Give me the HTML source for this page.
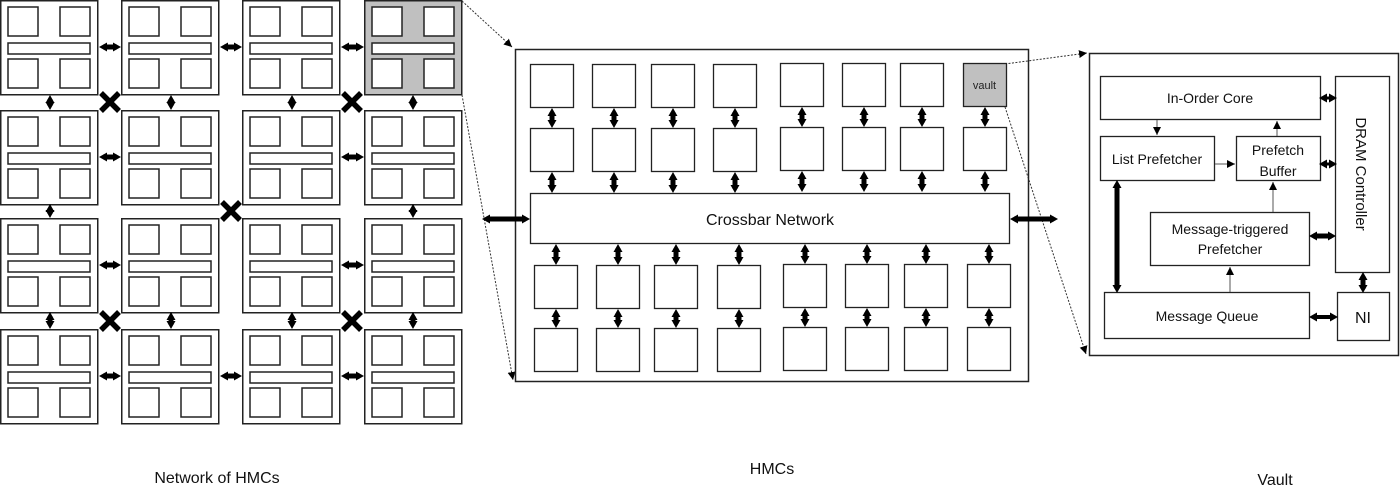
<!DOCTYPE html>
<html><head><meta charset="utf-8"><style>
html,body{margin:0;padding:0;background:#fff;}
svg{display:block;font-family:"Liberation Sans",sans-serif;}
</style></head><body>
<svg width="1400" height="499" viewBox="0 0 1400 499" xmlns="http://www.w3.org/2000/svg">
<defs>
<marker id="ah" markerUnits="userSpaceOnUse" markerWidth="10" markerHeight="10" refX="4" refY="5" orient="auto-start-reverse" viewBox="0 0 10 10"><path d="M0,0.5 L8,5 L0,9.5 Z" fill="#000"/></marker>
<marker id="as" markerUnits="userSpaceOnUse" markerWidth="8" markerHeight="8" refX="8" refY="4" orient="auto" viewBox="0 0 8 8"><path d="M0,0 L8,4 L0,8 Z" fill="#000"/></marker>
<g id="mod" stroke="#222" stroke-width="1.5">
<rect x="0.75" y="0.75" width="97" height="94" fill="#fff"/>
<rect x="8" y="7" width="30" height="29" fill="#fff"/><rect x="60" y="7" width="30" height="29" fill="#fff"/>
<rect x="8" y="43" width="82" height="11" fill="#fff"/>
<rect x="8" y="59" width="30" height="29" fill="#fff"/><rect x="60" y="59" width="30" height="29" fill="#fff"/>
</g>
<g id="modg" stroke="#222" stroke-width="1.5">
<rect x="0.75" y="0.75" width="97" height="94" fill="#c0c0c0"/>
<rect x="8" y="7" width="30" height="29" fill="#fff"/><rect x="60" y="7" width="30" height="29" fill="#fff"/>
<rect x="8" y="43" width="82" height="11" fill="#fff"/>
<rect x="8" y="59" width="30" height="29" fill="#fff"/><rect x="60" y="59" width="30" height="29" fill="#fff"/>
</g>
<g id="xx" stroke="#000" stroke-width="5.5"><line x1="-9" y1="-9" x2="9" y2="9"/><line x1="-9" y1="9" x2="9" y2="-9"/></g>
<g id="sq"><rect x="0.5" y="0.5" width="43" height="43" fill="#fff" stroke="#222" stroke-width="1.3"/></g>
</defs>

<use href="#mod" x="0" y="0"/><use href="#mod" x="121" y="0"/><use href="#mod" x="242" y="0"/><use href="#modg" x="364" y="0"/>
<use href="#mod" x="0" y="110"/><use href="#mod" x="121" y="110"/><use href="#mod" x="242" y="110"/><use href="#mod" x="364" y="110"/>
<use href="#mod" x="0" y="218"/><use href="#mod" x="121" y="218"/><use href="#mod" x="242" y="218"/><use href="#mod" x="364" y="218"/>
<use href="#mod" x="0" y="329"/><use href="#mod" x="121" y="329"/><use href="#mod" x="242" y="329"/><use href="#mod" x="364" y="329"/>

<g stroke="#000" stroke-width="5" marker-start="url(#ah)" marker-end="url(#ah)">
<line x1="103" y1="47" x2="117" y2="47"/><line x1="224" y1="47" x2="238" y2="47"/><line x1="345" y1="47" x2="360" y2="47"/>
<line x1="103" y1="157" x2="117" y2="157"/><line x1="345" y1="157" x2="360" y2="157"/>
<line x1="103" y1="265" x2="117" y2="265"/><line x1="345" y1="265" x2="360" y2="265"/>
<line x1="103" y1="376" x2="117" y2="376"/><line x1="224" y1="376" x2="238" y2="376"/><line x1="345" y1="376" x2="360" y2="376"/>
<line x1="50" y1="99" x2="50" y2="106"/><line x1="171" y1="99" x2="171" y2="106"/><line x1="292" y1="99" x2="292" y2="106"/><line x1="413" y1="99" x2="413" y2="106"/>
<line x1="50" y1="208" x2="50" y2="214"/><line x1="413" y1="208" x2="413" y2="214"/>
<line x1="50" y1="316" x2="50" y2="325"/><line x1="171" y1="316" x2="171" y2="325"/><line x1="292" y1="316" x2="292" y2="325"/><line x1="413" y1="316" x2="413" y2="325"/>
</g>
<use href="#xx" x="110" y="102"/><use href="#xx" x="352" y="102"/><use href="#xx" x="231" y="211"/><use href="#xx" x="110" y="321"/><use href="#xx" x="352" y="321"/>

<g stroke="#333" stroke-width="1" stroke-dasharray="2,1.5" fill="none">
<line x1="462" y1="1" x2="512" y2="47" marker-end="url(#as)"/>
<line x1="462" y1="95" x2="513" y2="380" marker-end="url(#as)"/>
<line x1="1005" y1="64" x2="1087" y2="53" marker-end="url(#as)"/>
<line x1="1005" y1="107" x2="1086" y2="354" marker-end="url(#as)"/>
</g>

<rect x="515.5" y="49.5" width="513" height="332" fill="none" stroke="#222" stroke-width="1.5"/>
<g>
<use href="#sq" x="530" y="64"/><use href="#sq" x="592" y="64"/><use href="#sq" x="651" y="64"/><use href="#sq" x="713" y="64"/><use href="#sq" x="780" y="63"/><use href="#sq" x="842" y="63"/><use href="#sq" x="900" y="63"/>
<rect x="963.5" y="63.5" width="43" height="43" fill="#c0c0c0" stroke="#222" stroke-width="1.3"/>
<use href="#sq" x="530" y="128"/><use href="#sq" x="592" y="128"/><use href="#sq" x="651" y="128"/><use href="#sq" x="713" y="128"/><use href="#sq" x="780" y="127"/><use href="#sq" x="842" y="127"/><use href="#sq" x="900" y="127"/><use href="#sq" x="963" y="127"/>
<use href="#sq" x="534" y="265"/><use href="#sq" x="596" y="265"/><use href="#sq" x="654" y="265"/><use href="#sq" x="717" y="265"/><use href="#sq" x="783" y="264"/><use href="#sq" x="845" y="264"/><use href="#sq" x="904" y="264"/><use href="#sq" x="967" y="264"/>
<use href="#sq" x="534" y="328"/><use href="#sq" x="596" y="328"/><use href="#sq" x="654" y="328"/><use href="#sq" x="717" y="328"/><use href="#sq" x="783" y="327"/><use href="#sq" x="845" y="327"/><use href="#sq" x="904" y="327"/><use href="#sq" x="967" y="327"/>
</g>
<text x="984.5" y="89" font-size="11" text-anchor="middle" fill="#222">vault</text>
<rect x="530.5" y="193.5" width="479" height="50" fill="#fff" stroke="#222" stroke-width="1.3"/>
<text x="770" y="225" font-size="16" text-anchor="middle" fill="#111">Crossbar Network</text>
<g stroke="#000" stroke-width="5" marker-start="url(#ah)" marker-end="url(#ah)">
<line x1="552" y1="112" x2="552" y2="124"/><line x1="614" y1="112" x2="614" y2="124"/><line x1="673" y1="112" x2="673" y2="124"/><line x1="735" y1="112" x2="735" y2="124"/><line x1="802" y1="111" x2="802" y2="123"/><line x1="864" y1="111" x2="864" y2="123"/><line x1="922" y1="111" x2="922" y2="123"/><line x1="985" y1="111" x2="985" y2="123"/>
<line x1="552" y1="176" x2="552" y2="189"/><line x1="614" y1="176" x2="614" y2="189"/><line x1="673" y1="176" x2="673" y2="189"/><line x1="735" y1="176" x2="735" y2="189"/><line x1="802" y1="175" x2="802" y2="188"/><line x1="864" y1="175" x2="864" y2="188"/><line x1="922" y1="175" x2="922" y2="188"/><line x1="985" y1="175" x2="985" y2="188"/>
<line x1="556" y1="248" x2="556" y2="261"/><line x1="618" y1="248" x2="618" y2="261"/><line x1="676" y1="248" x2="676" y2="261"/><line x1="739" y1="248" x2="739" y2="261"/><line x1="805" y1="248" x2="805" y2="260"/><line x1="867" y1="248" x2="867" y2="260"/><line x1="926" y1="248" x2="926" y2="260"/><line x1="989" y1="248" x2="989" y2="260"/>
<line x1="556" y1="313" x2="556" y2="324"/><line x1="618" y1="313" x2="618" y2="324"/><line x1="676" y1="313" x2="676" y2="324"/><line x1="739" y1="313" x2="739" y2="324"/><line x1="805" y1="312" x2="805" y2="323"/><line x1="867" y1="312" x2="867" y2="323"/><line x1="926" y1="312" x2="926" y2="323"/><line x1="989" y1="312" x2="989" y2="323"/>
<line x1="486" y1="219" x2="526" y2="219"/><line x1="1014" y1="219" x2="1054" y2="219"/>
</g>

<rect x="1089.5" y="53.5" width="309" height="302" fill="none" stroke="#222" stroke-width="1.5"/>
<g fill="#fff" stroke="#222" stroke-width="1.3">
<rect x="1100.5" y="76.5" width="220" height="43"/>
<rect x="1100.5" y="136.5" width="114" height="44"/>
<rect x="1236.5" y="136.5" width="84" height="44"/>
<rect x="1150.5" y="212.5" width="159" height="53"/>
<rect x="1104.5" y="292.5" width="205" height="46"/>
<rect x="1337.5" y="292.5" width="52" height="48"/>
<rect x="1335.5" y="76.5" width="54" height="196"/>
</g>
<g font-size="14" fill="#111" text-anchor="middle">
<text x="1210" y="103">In-Order Core</text>
<text x="1157" y="164">List Prefetcher</text>
<text x="1278" y="155">Prefetch</text>
<text x="1278" y="176">Buffer</text>
<text x="1230" y="234">Message-triggered</text>
<text x="1230" y="254">Prefetcher</text>
<text x="1207" y="321">Message Queue</text>
<text x="1363" y="323" font-size="16">NI</text>
<text transform="translate(1356,174) rotate(90)" font-size="15">DRAM Controller</text>
</g>
<g stroke="#555" stroke-width="1" fill="none">
<line x1="1157" y1="120" x2="1157" y2="135" marker-end="url(#as)"/>
<line x1="1277" y1="136" x2="1277" y2="121" marker-end="url(#as)"/>
<line x1="1215" y1="164" x2="1235" y2="164" marker-end="url(#as)"/>
<line x1="1273" y1="212" x2="1273" y2="182" marker-end="url(#as)"/>
<line x1="1230" y1="292" x2="1230" y2="267" marker-end="url(#as)"/>
</g>
<g stroke="#000" marker-start="url(#ah)" marker-end="url(#ah)">
<line x1="1323" y1="98" x2="1333" y2="98" stroke-width="3"/>
<line x1="1323" y1="164" x2="1333" y2="164" stroke-width="3"/>
<line x1="1313" y1="236" x2="1332" y2="236" stroke-width="5"/>
<line x1="1117" y1="184" x2="1117" y2="289" stroke-width="5"/>
<line x1="1363" y1="276" x2="1363" y2="289" stroke-width="5"/>
<line x1="1313" y1="317" x2="1334" y2="317" stroke-width="4"/>
</g>

<g font-size="16" fill="#111" text-anchor="middle">
<text x="217" y="483">Network of HMCs</text>
<text x="772" y="474">HMCs</text>
<text x="1275" y="485">Vault</text>
</g>
</svg>
</body></html>
